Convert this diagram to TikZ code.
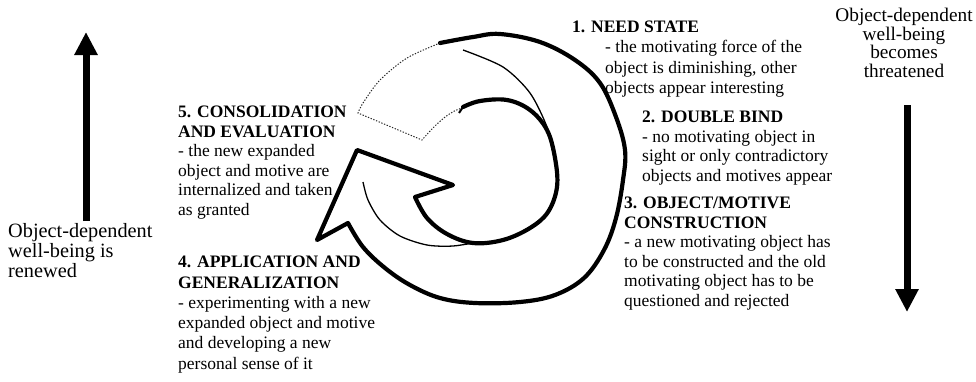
\documentclass[tikz,border=0pt]{standalone}
\usepackage{fontspec}
\setmainfont{Liberation Serif}
\usetikzlibrary{arrows.meta}
\begin{document}
\begin{tikzpicture}[x=1pt,y=-1pt,
  blk/.style={anchor=north west, align=left, inner sep=0pt, font=\fontsize{17.5}{19.5}\selectfont},
  side/.style={align=center, inner sep=0pt, font=\fontsize{19.3}{18.7}\selectfont},
  ribbon/.style={line width=4.2pt, line cap=round, line join=round},
  fold/.style={line width=1.3pt},
  tailline/.style={line width=1pt, dash pattern=on 1.3pt off 1.6pt, black!85},
  bigarrow/.style={line width=7pt, -{Triangle[width=22pt,length=23pt]}},
]
\fill[white] (0,0) rectangle (976,381);
\useasboundingbox (0,0) rectangle (976,381);

% texts
\node[blk, font=\fontsize{17.5}{20.2}\selectfont] (s1) at (572,21) {\textbf{1. NEED STATE}\\\hspace*{33pt}- the motivating force of the\\\hspace*{33pt}object is diminishing, other\\\hspace*{33pt}objects appear interesting};
\node[blk] (s2) at (642,111) {\textbf{2. DOUBLE BIND}\\- no motivating object in\\sight or only contradictory\\objects and motives appear};
\node[blk] (s3) at (624,197) {\textbf{3. OBJECT/MOTIVE}\\\textbf{CONSTRUCTION}\\- a new motivating object has\\to be constructed and the old\\motivating object has to be\\questioned and rejected};
\node[blk] (s5) at (178,106) {\textbf{5. CONSOLIDATION}\\\textbf{AND EVALUATION}\\- the new expanded\\object and motive are\\internalized and taken\\as granted};
\node[blk, font=\fontsize{17.5}{20.3}\selectfont] (s4) at (178,256) {\textbf{4. APPLICATION AND}\\\textbf{GENERALIZATION}\\- experimenting with a new\\expanded object and motive\\and developing a new\\personal sense of it};
\node[blk, font=\fontsize{20.3}{20}\selectfont] (lt) at (8,223) {Object-dependent\\well-being is\\renewed};
\node[side, anchor=north] (rt) at (904,8) {Object-dependent\\well-being\\becomes\\threatened};

% side arrows
\coordinate (la) at (86,221);
\coordinate (lb) at (86,32);
\draw[bigarrow] (la) -- (lb);
\coordinate (ra) at (907,105);
\coordinate (rb) at (907,312);
\draw[bigarrow] (ra) -- (rb);

% spiral ribbon
\draw[ribbon] plot[smooth, tension=0.6] coordinates {(440,43) (473,37) (500,34) (540,42) (575,60) (600,83) (616,117) (625,150) (623,180) (616,218) (604,250) (584,278) (555,295) (520,302) (475,303) (440,298) (410,285) (385,268) (363,247) (348,223)}
  -- (317,240) -- (357,150) -- (453,185)
  -- plot[smooth, tension=0.6] coordinates {(415,197) (427,218) (447,234) (473,243) (503,240) (530,228) (548,212) (557,187) (555,158) (547,130) (530,110) (507,100) (480,101) (463,107)};
\draw[line width=2pt] (463,107) -- (459,113);
% fold lines
\draw[fold] plot[smooth] coordinates {(463,50) (503,67) (530,93) (547,127) (552,150)};
\draw[fold] plot[smooth] coordinates {(363,182) (368,200) (380,220) (400,236) (427,245) (453,246) (478,242)};
% fading tail
\draw[tailline] plot[smooth] coordinates {(440,43) (407,58) (380,80) (363,103) (358,113)} -- (422,140) .. controls (435,125) and (448,112) .. (462,108);
\end{tikzpicture}
\end{document}
